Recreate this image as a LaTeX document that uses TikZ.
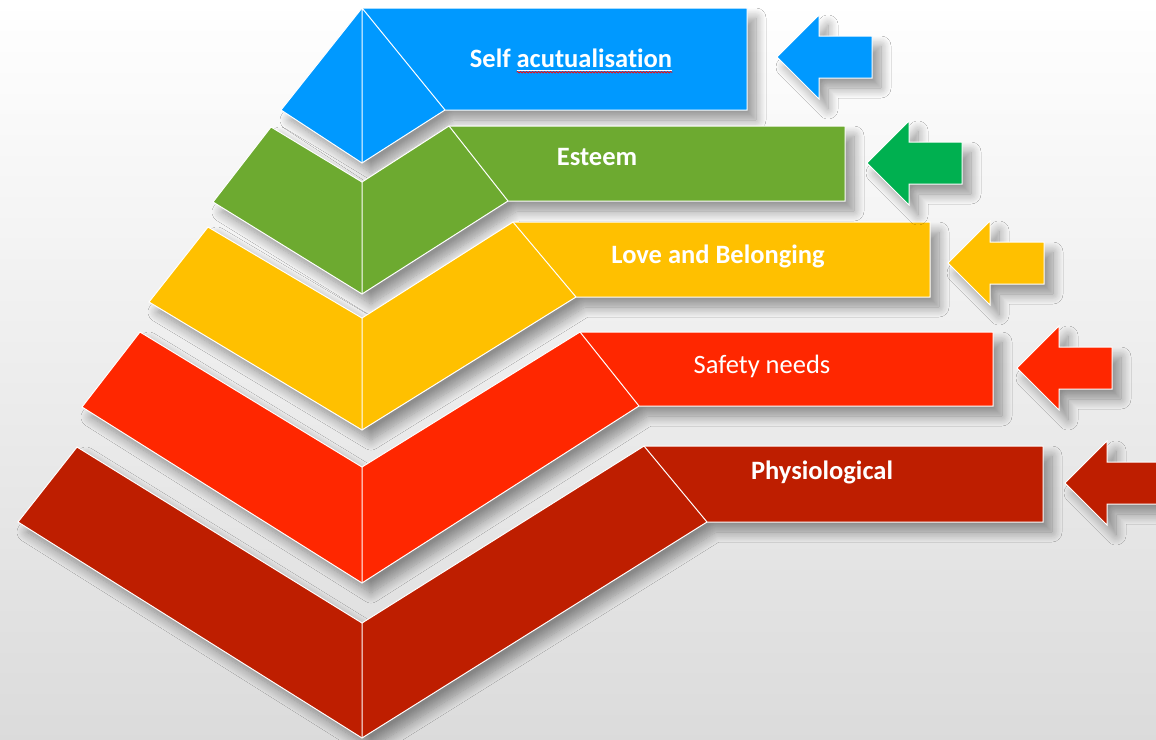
\documentclass[tikz,border=0pt]{standalone}
\usepackage{fontspec}
\setmainfont{Carlito}[Ligatures=NoCommon]
\usetikzlibrary{shadows.blur}
\usetikzlibrary{decorations.pathmorphing}

\definecolor{stufeblau}{HTML}{0099FF}
\definecolor{stufegruen}{HTML}{6DAA30}
\definecolor{pfeilgruen}{HTML}{00B050}
\definecolor{stufegelb}{HTML}{FFC000}
\definecolor{stuferot}{HTML}{FF2700}
\definecolor{stufedunkelrot}{HTML}{BE1E00}

\tikzset{
    stufe/.style={draw=white, line width=1pt,
        blur shadow={shadow xshift=9pt, shadow yshift=-10pt,
                     shadow blur radius=10pt, shadow blur steps=12, shadow opacity=40}},
    kante/.style={draw=white, line width=1pt},
    beschriftung/.style={text=white, inner sep=0pt,
        font=\fontsize{26.5}{30}\selectfont\bfseries},
}

\begin{document}
\begin{tikzpicture}[x=1pt, y=-1pt]
        % Hintergrund
        \useasboundingbox (0,0) rectangle (1156,739);
        \shade[top color=white, middle color=white, bottom color=black!14] (0,0) rectangle (1156,739);
        % Stufen
        \filldraw[stufe, fill=stufeblau] (362,8) -- (747,8) -- (747,110) -- (445,110) -- (362,163) -- (281,110) -- cycle;
        \draw[kante] (362,8) -- (362,163) (362,8) -- (445,110);
        \filldraw[stufe, fill=stufegruen] (271,127) -- (362,182) -- (449,126) -- (845,126) -- (845,201) -- (508,201) -- (362,294) -- (213,202) -- cycle;
        \draw[kante] (362,182) -- (362,294) (449,126) -- (508,201);
        \filldraw[stufe, fill=stufegelb] (208,227) -- (362,318) -- (513,222) -- (930,222) -- (930,297) -- (576,297) -- (362,430) -- (149,302) -- cycle;
        \draw[kante] (362,318) -- (362,430) (513,222) -- (576,297);
        \filldraw[stufe, fill=stuferot] (140,332) -- (362,467) -- (580,332) -- (993,332) -- (993,406) -- (639,406) -- (362,583) -- (82,407) -- cycle;
        \draw[kante] (362,467) -- (362,583) (580,332) -- (639,406);
        \filldraw[stufe, fill=stufedunkelrot] (77,447) -- (362,623) -- (644,446) -- (1043,446) -- (1043,522) -- (707,522) -- (362,738) -- (18,522) -- cycle;
        \draw[kante] (362,623) -- (362,738) (644,446) -- (707,522);
        % Pfeile
        \foreach \tx/\ty/\xe/\farbe in {777/57/872/stufeblau, 867/163/962/pfeilgruen, 948/263/1044/stufegelb, 1017/368/1112/stuferot, 1065/483/1180/stufedunkelrot}
        {
            \filldraw[stufe, fill=\farbe] (\tx,\ty) -- (\tx+42,\ty-42) -- (\tx+42,\ty-21) -- (\xe,\ty-21)
                -- (\xe,\ty+21) -- (\tx+42,\ty+21) -- (\tx+42,\ty+42) -- cycle;
        }
        % Beschriftung
        \node[beschriftung] (selbst) at (571,58) {Self acutualisation};
        \draw[white, line width=0.6pt] ([xshift=47pt, yshift=-3pt]selbst.base west) -- ([yshift=-3pt]selbst.base east);
        \draw[red, line width=0.7pt, decorate, decoration={snake, amplitude=0.8pt, segment length=3pt}]
            ([xshift=47pt, yshift=-5pt]selbst.base west) -- ([yshift=-5pt]selbst.base east);
        \node[beschriftung] (wert) at (597,157) {Esteem};
        \node[beschriftung] (liebe) at (718,256) {Love and Belonging};
        \node[beschriftung, font=\fontsize{26.5}{30}\selectfont] (sicherheit) at (762,366) {Safety needs};
        \node[beschriftung] (koerper) at (822,472) {Physiological};
\end{tikzpicture}
\end{document}
